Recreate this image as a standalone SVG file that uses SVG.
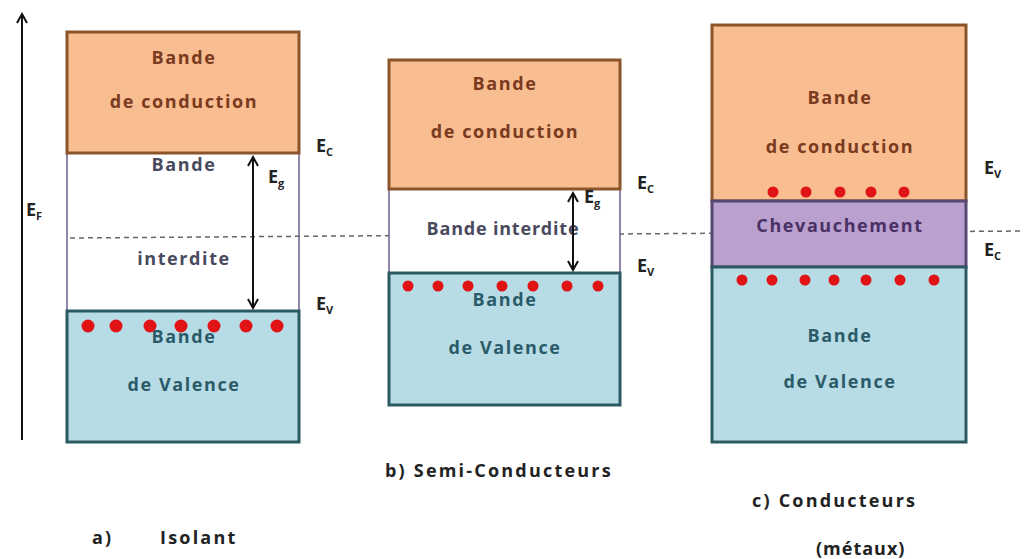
<svg xmlns="http://www.w3.org/2000/svg" width="1024" height="559" viewBox="0 0 1024 559">
<defs>
<marker id="chev" viewBox="0 0 12 12" refX="10" refY="6" markerWidth="12" markerHeight="12" markerUnits="userSpaceOnUse" orient="auto-start-reverse">
<path d="M1,1 L10,6 L1,11" fill="none" stroke="#111" stroke-width="2"/>
</marker>
<style>
.cb{fill:#f8bd90;stroke:#8a552b;stroke-width:3}
.vb{fill:#b7dce6;stroke:#2c5a63;stroke-width:3}
.fb{fill:#ffffff;stroke:#6b5f8c;stroke-width:1.5}
.ob{fill:#b9a0cf;stroke:#564673;stroke-width:3}
text{font-family:"Open Sans","Liberation Sans",sans-serif;font-weight:bold;font-size:18px;letter-spacing:1.6px;text-anchor:middle}
.tc{fill:#7a3a20}
.tf{fill:#4a4a5e}
.tv{fill:#2b5b68}
.to{fill:#4a3064}
.lab{fill:#222;text-anchor:start;font-size:18px;letter-spacing:0}
.sub{font-size:11px}
.cap{fill:#222;text-anchor:start;font-size:18px;letter-spacing:2.2px}
.dot{fill:#e01414}
.conn{stroke:#111;stroke-width:2;fill:none}
</style>
</defs>

<g id="axis">
<line class="conn" x1="22" y1="440" x2="22" y2="14" marker-end="url(#chev)"/>
<text class="lab" x="26" y="216">E<tspan class="sub" dy="4">F</tspan></text>
</g>

<g id="panel-a">
<rect class="fb" x="67" y="153" width="232" height="158"/>
<rect class="cb" x="67" y="32" width="232" height="121"/>
<rect class="vb" x="67" y="311" width="232" height="131"/>
<text class="tc" x="184" y="64">Bande</text>
<text class="tc" x="184" y="108">de conduction</text>
<text class="tf" x="184" y="171">Bande</text>
<text class="tf" x="184" y="265">interdite</text>
<text class="tv" x="184" y="343">Bande</text>
<text class="tv" x="184" y="391">de Valence</text>
<g class="dot">
<circle cx="88" cy="326" r="6.5"/><circle cx="116" cy="326" r="6.5"/><circle cx="150" cy="326" r="6.5"/><circle cx="181" cy="326" r="6.5"/><circle cx="214" cy="326" r="6.5"/><circle cx="246" cy="326" r="6.5"/><circle cx="277" cy="326" r="6.5"/>
</g>
<text class="lab" x="316" y="152">E<tspan class="sub" dy="4">C</tspan></text>
<text class="lab" x="316" y="310">E<tspan class="sub" dy="4">V</tspan></text>
<text class="lab" x="268" y="183">E<tspan class="sub" dy="4">g</tspan></text>
</g>

<g id="fermi-line">
<line x1="70" y1="238" x2="1024" y2="231" stroke="#666" stroke-width="1.5" stroke-dasharray="5,4"/>
</g>

<g id="panel-b">
<rect class="fb" x="389" y="189" width="231" height="84"/>
<rect class="cb" x="389" y="60" width="231" height="129"/>
<rect class="vb" x="389" y="273" width="231" height="132"/>
<text class="tc" x="505" y="90">Bande</text>
<text class="tc" x="505" y="138">de conduction</text>
<text class="tf" x="503" y="235" style="letter-spacing:0.8px">Bande interdite</text>
<text class="tv" x="505" y="306">Bande</text>
<text class="tv" x="505" y="354">de Valence</text>
<g class="dot">
<circle cx="408" cy="286" r="5.5"/><circle cx="438" cy="286" r="5.5"/><circle cx="468" cy="286" r="5.5"/><circle cx="502" cy="286" r="5.5"/><circle cx="533" cy="286" r="5.5"/><circle cx="567" cy="286" r="5.5"/><circle cx="598" cy="286" r="5.5"/>
</g>
<text class="lab" x="637" y="189">E<tspan class="sub" dy="4">C</tspan></text>
<text class="lab" x="637" y="272">E<tspan class="sub" dy="4">V</tspan></text>
<text class="lab" x="584" y="203">E<tspan class="sub" dy="4">g</tspan></text>
</g>

<g id="panel-c">
<rect class="cb" x="712" y="25" width="254" height="176"/>
<rect class="ob" x="712" y="201" width="254" height="66"/>
<rect class="vb" x="712" y="267" width="254" height="175"/>
<text class="tc" x="840" y="104">Bande</text>
<text class="tc" x="840" y="153">de conduction</text>
<text class="to" x="840" y="232">Chevauchement</text>
<text class="tv" x="840" y="342">Bande</text>
<text class="tv" x="840" y="388">de Valence</text>
<g class="dot">
<circle cx="773" cy="192" r="5.5"/><circle cx="806" cy="192" r="5.5"/><circle cx="840" cy="192" r="5.5"/><circle cx="871" cy="192" r="5.5"/><circle cx="904" cy="192" r="5.5"/>
<circle cx="742" cy="280" r="5.5"/><circle cx="772" cy="280" r="5.5"/><circle cx="805" cy="280" r="5.5"/><circle cx="834" cy="280" r="5.5"/><circle cx="866" cy="280" r="5.5"/><circle cx="900" cy="280" r="5.5"/><circle cx="934" cy="280" r="5.5"/>
</g>
<text class="lab" x="984" y="174">E<tspan class="sub" dy="4">V</tspan></text>
<text class="lab" x="984" y="256">E<tspan class="sub" dy="4">C</tspan></text>
</g>

<g id="connectors">
<line class="conn" x1="253" y1="157" x2="253" y2="308" marker-start="url(#chev)" marker-end="url(#chev)"/>
<line class="conn" x1="573" y1="193" x2="573" y2="270" marker-start="url(#chev)" marker-end="url(#chev)"/>
</g>

<g id="captions">
<text class="cap" x="385" y="477">b)  Semi-Conducteurs</text>
<text class="cap" x="752" y="507">c)  Conducteurs</text>
<text class="cap" x="92" y="544">a)</text>
<text class="cap" x="160" y="544">Isolant</text>
<text class="cap" x="816" y="555" style="letter-spacing:1px">(métaux)</text>
</g>
</svg>
